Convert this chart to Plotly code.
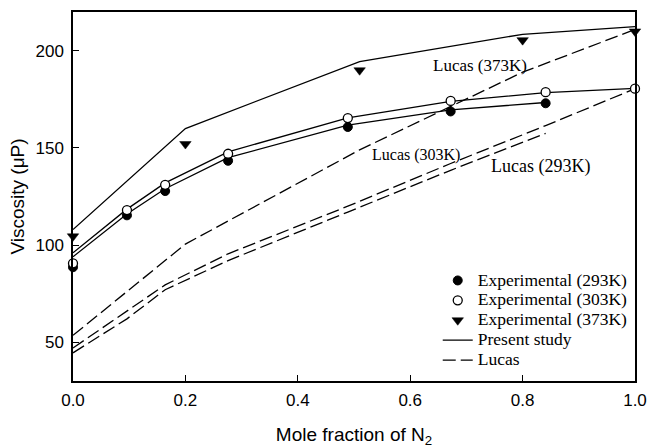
import plotly.graph_objects as go

# ---- data ----
x_373 = [0.0, 0.2, 0.51, 0.8, 1.0]
exp_373 = [104.5, 152.0, 190.0, 205.5, 210.0]
present_373 = [108.0, 160.0, 194.5, 208.5, 212.5]
lucas_373 = [53.5, 100.5, 149.0, 189.0, 211.0]

x_303 = [0.0, 0.096, 0.164, 0.276, 0.489, 0.672, 0.841, 1.0]
exp_303 = [90.6, 118.0, 131.0, 147.0, 165.4, 174.2, 178.7, 180.5]
present_303 = [96.0, 118.5, 132.0, 148.0, 165.5, 174.0, 178.5, 180.7]
lucas_303 = [47.0, 66.0, 79.5, 95.5, 120.0, 142.0, 161.5, 180.5]

x_293 = [0.0, 0.096, 0.164, 0.276, 0.489, 0.672, 0.841]
exp_293 = [88.6, 115.3, 127.8, 143.4, 160.8, 168.8, 173.0]
present_293 = [94.0, 116.0, 129.0, 145.0, 161.8, 169.6, 173.4]
lucas_293 = [44.5, 62.0, 77.0, 92.0, 117.0, 138.5, 157.5]

x_ticks = [0.0, 0.2, 0.4, 0.6, 0.8, 1.0]
y_ticks = [50, 100, 150, 200]

labels = ["Lucas (373K)", "Lucas (303K)", "Lucas (293K)"]
label_x = [0.724, 0.610, 0.831]
label_y = [192.3, 146.4, 140.6]
label_size = [17, 16, 18]

SERIF = "Liberation Serif, Times New Roman, serif"
SANS = "Liberation Sans, Arial, sans-serif"
LW = 1.3
DASH = "13px,5px"


def lg(name):
    return f'<span style="font-size:17.5px">{name}</span>'


fig = go.Figure()

# present study (solid)
for i, (xs, ys) in enumerate([(x_373, present_373), (x_303, present_303), (x_293, present_293)]):
    fig.add_trace(go.Scatter(
        x=xs, y=ys, mode="lines", line=dict(color="black", width=LW),
        name=lg("Present study"), legendgroup="present", showlegend=(i == 0), legendrank=4))

# Lucas (dashed)
for i, (xs, ys) in enumerate([(x_373, lucas_373), (x_303, lucas_303), (x_293, lucas_293)]):
    fig.add_trace(go.Scatter(
        x=xs, y=ys, mode="lines", line=dict(color="black", width=LW, dash=DASH),
        name=lg("Lucas"), legendgroup="lucas", showlegend=(i == 0), legendrank=5))

# experimental markers
fig.add_trace(go.Scatter(
    x=x_293, y=exp_293, mode="markers", name=lg("Experimental (293K)"), legendrank=1,
    marker=dict(symbol="circle", size=9, color="black", line=dict(color="black", width=1)),
    cliponaxis=False))
fig.add_trace(go.Scatter(
    x=x_303, y=exp_303, mode="markers", name=lg("Experimental (303K)"), legendrank=2,
    marker=dict(symbol="circle", size=9, color="white", line=dict(color="black", width=1.3)),
    cliponaxis=False))
fig.add_trace(go.Scatter(
    x=x_373, y=exp_373, mode="markers", name=lg("Experimental (373K)"), legendrank=3,
    marker=dict(symbol="triangle-down", size=10, color="black", line=dict(color="black", width=0.5)),
    cliponaxis=False))

for t, xx, yy, fs in zip(labels, label_x, label_y, label_size):
    fig.add_annotation(x=xx, y=yy, text=t, showarrow=False,
                       font=dict(family=SERIF, size=fs, color="black"),
                       xanchor="center", yanchor="middle")

axis_common = dict(
    showline=True, linewidth=1.5, linecolor="black", mirror=True,
    ticks="inside", tickcolor="black", tickwidth=1.2, ticklen=6,
    showgrid=False, zeroline=False, automargin=False,
    tickfont=dict(family=SANS, size=17, color="black"),
)

fig.update_xaxes(range=[0, 1], tickvals=x_ticks, tickformat=".1f",
                 ticklabelstandoff=3,
                 title=dict(text="Mole fraction of N<sub>2</sub>",
                            font=dict(family=SANS, size=19, color="black"), standoff=19),
                 **axis_common)
fig.update_yaxes(range=[30, 220], tickvals=y_ticks,
                 ticklabelstandoff=4,
                 title=dict(text="Viscosity (\u03bcP)",
                            font=dict(family=SANS, size=19, color="black"), standoff=6),
                 **axis_common)

fig.update_layout(
    width=649, height=448,
    margin=dict(l=73, r=14, t=12, b=67, autoexpand=False),
    paper_bgcolor="white", plot_bgcolor="white",
    showlegend=True,
    legend=dict(x=0.649, y=0.313, xanchor="left", yanchor="top",
                font=dict(family=SERIF, size=13, color="black"),
                bgcolor="rgba(0,0,0,0)", borderwidth=0, traceorder="normal",
                itemwidth=30),
)

fig.write_html("out.html")
